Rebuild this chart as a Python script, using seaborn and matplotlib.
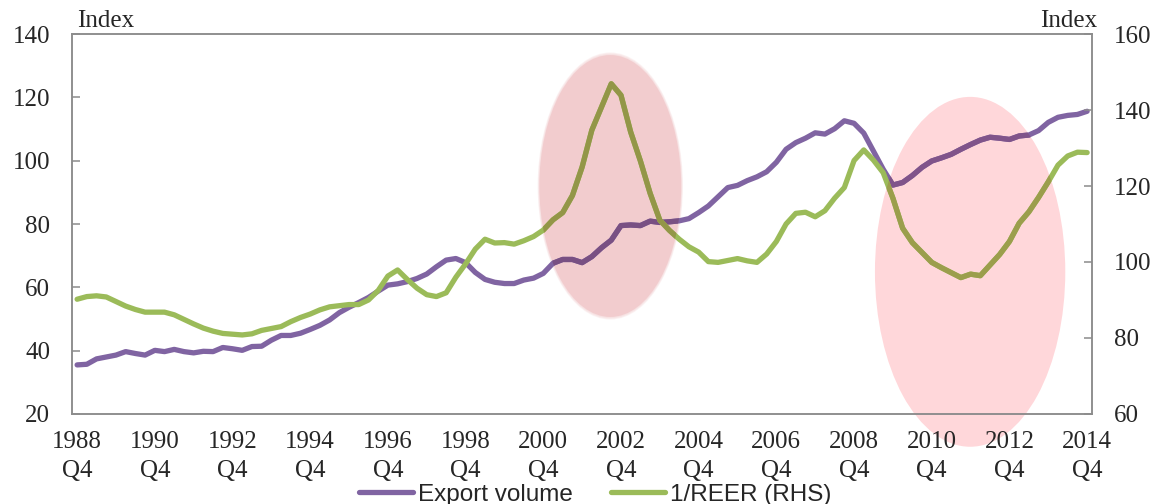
import numpy as np
import pandas as pd
import seaborn as sns
import matplotlib as mpl
import matplotlib.pyplot as plt
from matplotlib.patches import Ellipse

# -------------------------
# Data (quarterly, 1988Q4 - 2014Q4)
# -------------------------
export_volume = [
    35.5, 35.7, 37.4, 38.0, 38.6, 39.7, 39.1, 38.6, 40.1, 39.7,
    40.4, 39.7, 39.3, 39.8, 39.7, 41.0, 40.6, 40.1, 41.3, 41.4,
    43.3, 44.8, 44.8, 45.5, 46.7, 48.0, 49.7, 52.0, 53.7, 55.2,
    56.8, 58.8, 60.7, 61.1, 61.8, 62.8, 64.2, 66.5, 68.6, 69.1,
    67.8, 64.7, 62.5, 61.6, 61.2, 61.2, 62.3, 62.9, 64.4, 67.6,
    68.8, 68.8, 67.8, 69.7, 72.5, 74.9, 79.5, 79.7, 79.5, 80.9,
    80.5, 80.7, 81.0, 81.7, 83.6, 85.7, 88.6, 91.5, 92.2, 93.7,
    94.9, 96.5, 99.5, 103.6, 105.7, 107.1, 108.8, 108.4, 110.1, 112.6,
    111.8, 108.7, 103.0, 97.3, 92.3, 93.1, 95.3, 97.9, 99.9, 100.9,
    102.0, 103.6, 105.1, 106.5, 107.4, 107.1, 106.7, 107.8, 108.1, 109.5,
    112.1, 113.7, 114.3, 114.6, 115.6,
]
reer_inv = [
    90.2, 90.9, 91.1, 90.8, 89.6, 88.4, 87.5, 86.8, 86.8, 86.8,
    86.1, 84.9, 83.7, 82.6, 81.8, 81.2, 81.0, 80.8, 81.1, 82.0,
    82.5, 83.0, 84.3, 85.4, 86.3, 87.4, 88.2, 88.5, 88.8, 88.8,
    90.0, 92.5, 96.3, 97.9, 95.4, 93.1, 91.4, 90.9, 91.9, 96.0,
    99.5, 103.4, 106.0, 105.0, 105.1, 104.7, 105.6, 106.7, 108.4, 111.1,
    113.0, 117.5, 125.0, 134.7, 140.8, 146.9, 143.9, 134.2, 126.6, 118.1,
    111.0, 108.3, 106.0, 104.0, 102.6, 100.1, 99.9, 100.4, 100.9, 100.3,
    99.9, 102.1, 105.4, 110.0, 112.8, 113.1, 111.9, 113.5, 116.8, 119.6,
    126.7, 129.5, 126.8, 123.5, 116.8, 108.9, 105.1, 102.5, 99.9, 98.5,
    97.2, 95.9, 96.8, 96.4, 99.2, 102.0, 105.4, 110.2, 113.2, 117.0,
    121.1, 125.5, 127.9, 128.9, 128.8,
]
label_years = ['1988', '1990', '1992', '1994', '1996', '1998', '2000',
               '2002', '2004', '2006', '2008', '2010', '2012', '2014']

df = pd.DataFrame({'q': np.arange(len(export_volume)),
                   'export': export_volume, 'reer': reer_inv})

# -------------------------
# Style
# -------------------------
sns.set_style("white")
plt.rcParams['font.family'] = ['Liberation Serif', 'DejaVu Serif']

purple = '#8064A2'
green = '#9BBB59'
pink1 = '#F2CCCE'
pink2 = '#FFD7DA'
grey = '#8C8C8C'


def multiply(c1, c2):
    a = np.array(mpl.colors.to_rgb(c1))
    b = np.array(mpl.colors.to_rgb(c2))
    return tuple(a * b)


fig = plt.figure(figsize=(11.58, 5.04), dpi=100)
ax = fig.add_axes([0.0624, 0.1786, 0.8806, 0.7539])
ax2 = ax.twinx()
ax.set_axisbelow(False)

# highlight ellipses (left-axis data coords)
ell1 = Ellipse((54.9, 92.0), 14.6, 82.7, facecolor=pink1, edgecolor='none',
               zorder=1)
ell2 = Ellipse((91.95, 64.9), 19.6, 110.5, facecolor=pink2, edgecolor='none',
               zorder=1, clip_on=False)
# soft glow around the first ellipse
for k in range(1, 4):
    ax.add_patch(Ellipse((54.9, 92.0), 14.6 + 0.12 * k, 82.7 + 0.55 * k,
                         facecolor=pink1, edgecolor='none', alpha=0.25,
                         zorder=0.9))
ax.add_patch(ell1)
ax.add_patch(ell2)

lw = 3.8
sns.lineplot(data=df, x='q', y='export', ax=ax, color=purple, linewidth=lw,
             label='Export volume', legend=False, zorder=3)
sns.lineplot(data=df, x='q', y='reer', ax=ax2, color=green, linewidth=lw,
             label='1/REER (RHS)', legend=False, zorder=3)

# lines seen through the ellipses (multiply blend)
for ell, col in [(ell1, pink1), (ell2, pink2)]:
    sns.lineplot(data=df, x='q', y='export', ax=ax, linewidth=lw,
                 color=multiply(purple, col), legend=False, zorder=4)
    ax.lines[-1].set_clip_path(ell)
    sns.lineplot(data=df, x='q', y='reer', ax=ax2, linewidth=lw,
                 color=multiply(green, col), legend=False, zorder=4)
    ax2.lines[-1].set_clip_path(ell)

# axes limits and ticks
ax.set_xlim(-0.5, len(export_volume) - 0.5)
ax.set_ylim(20, 140)
ax2.set_ylim(60, 160)
ax.set_yticks(np.arange(20, 141, 20))
ax2.set_yticks(np.arange(60, 161, 20))

label_pos = np.arange(0, len(export_volume), 8)
ax.set_xticks(label_pos - 0.5)
ax.set_xticklabels([])
ax.set_xticks(label_pos, minor=True)
ax.set_xticklabels([y + '\nQ4' for y in label_years], minor=True)
for lbl in ax.get_xticklabels(minor=True):
    lbl.set_linespacing(1.45)

ax.set_xlabel('')
ax.set_ylabel('')
ax2.set_ylabel('')

fs = 18
ax.tick_params(axis='x', which='major', direction='in', length=6,
               width=1.1, color=grey)
ax.tick_params(axis='x', which='minor', length=0, pad=12, labelsize=fs)
ax.tick_params(axis='y', direction='in', length=6, width=1.1, color=grey,
               pad=16, labelsize=fs)
ax2.tick_params(axis='y', direction='in', length=6, width=1.1, color=grey,
                pad=16, labelsize=fs)

for a in (ax, ax2):
    for s in a.spines.values():
        s.set_color(grey)
        s.set_linewidth(1.1)

ax.text(0.005, 1.005, 'Index', transform=ax.transAxes, fontsize=fs,
        ha='left', va='bottom')
ax.text(1.005, 1.005, 'Index', transform=ax.transAxes, fontsize=fs,
        ha='right', va='bottom')

# legend
handles = [ax.lines[0], ax2.lines[0]]
leg = fig.legend(handles, ['Export volume', '1/REER (RHS)'], loc='center',
                 bbox_to_anchor=(0.514, 0.018), ncol=2, frameon=False,
                 prop={'family': 'Liberation Sans', 'size': 17.5},
                 handlelength=2.25, handletextpad=0.2, columnspacing=1.55)

fig.savefig('out.png', dpi=100)
